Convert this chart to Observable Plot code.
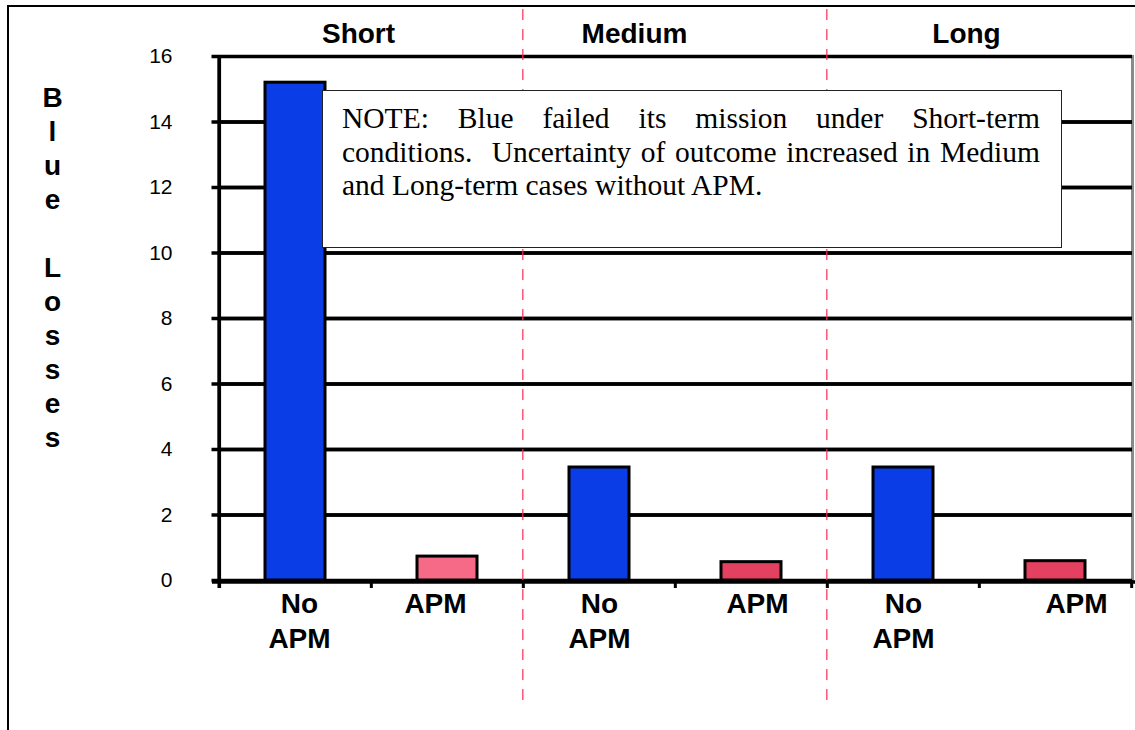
<!DOCTYPE html>
<html>
<head>
<meta charset="utf-8">
<script src="https://cdn.jsdelivr.net/npm/d3@7"></script>
<script src="https://cdn.jsdelivr.net/npm/@observablehq/plot@0.6"></script>
<style>
  html, body { margin: 0; padding: 0; background: #fff; overflow: hidden; }
  #wrap { position: relative; width: 1135px; height: 730px; overflow: hidden; }
  #outer { position: absolute; left: 6.5px; top: 5px; width: 1300px; height: 900px;
           border-top: 2.5px solid #000; border-left: 2.5px solid #000; box-sizing: border-box; }
  #chart { position: absolute; left: 0; top: 0; }
  #note { position: absolute; left: 322px; top: 90px; width: 740px; height: 158px;
          box-sizing: border-box; border: 1.5px solid #222; background: #fff;
          padding: 11px 21px 0 19px; font-family: "Liberation Serif", "Times New Roman", serif;
          font-size: 29.5px; line-height: 33.5px; color: #000; }
  #note .j { text-align: justify; text-align-last: justify; }
</style>
</head>
<body>
<div id="wrap">
  <div id="outer"></div>
  <div id="chart"></div>
  <div id="note">
    <div class="j">NOTE: Blue failed its mission under Short-term</div>
    <div class="j">conditions.&nbsp; Uncertainty of outcome increased in Medium</div>
    <div>and Long-term cases without APM.</div>
  </div>
</div>
<script>
// ---- data ----
const groups = ["Short", "Medium", "Long"];
const conditions = ["No APM", "APM"];
const conditionLabels = ["No\nAPM", "APM"];
const noApmLosses = [15.2, 3.45, 3.45];
const apmLosses = [0.73, 0.56, 0.59];
const noApmColor = "#0a3de6";
const apmColors = ["#f76a87", "#e4405f", "#e4405f"];
const yTicks = [0, 2, 4, 6, 8, 10, 12, 14, 16];
const yTitle = "B\nl\nu\ne\n\u00a0\nL\no\ns\ns\ne\ns";

// ---- layout ----
const W = 1135, H = 730;
const mL = 218, mR = 3, mT = 56, mB = 150;
const bw = (W - mL - mR) / (groups.length * conditions.length);
const groupLabelShift = [63, 35, 63];
const tickLabelShift = [4, -12, 0, 6, 0, 21];

const rows = [];
groups.forEach((g, i) => {
  rows.push({key: g + "|" + conditions[0], group: g, label: conditionLabels[0], value: noApmLosses[i], color: noApmColor});
  rows.push({key: g + "|" + conditions[1], group: g, label: conditionLabels[1], value: apmLosses[i], color: apmColors[i]});
});
const keys = rows.map(d => d.key);

const marks = [
  Plot.frame({stroke: "#8a8a8a", strokeWidth: 3}),
  Plot.gridY({ticks: yTicks.filter(t => t > 0 && t < 16), stroke: "#000", strokeOpacity: 1, strokeWidth: 3.5}),
  Plot.tickY(yTicks, {y: d => d, frameAnchor: "left", stroke: "#000", strokeWidth: 3.5}),
  Plot.ruleY(yTicks, {y: d => d, stroke: "#000", strokeWidth: 3.5, insetLeft: -6.5, insetRight: W - mL - mR}),
  Plot.text(yTicks, {y: d => d, text: d => String(d), frameAnchor: "left", dx: -46, textAnchor: "end",
                     fontSize: 21}),
  Plot.barY(rows, {x: "key", y: "value", fill: "color", stroke: "#000", strokeWidth: 3,
                   insetLeft: 46, insetRight: 46}),
  Plot.ruleY([0], {stroke: "#000", strokeWidth: 3.5, dy: 1.5, insetLeft: -6, insetRight: -4}),
  Plot.ruleX([keys[0]], {x: d => d, dx: -bw / 2, stroke: "#000", strokeWidth: 3.5, insetBottom: -8}),
  Plot.ruleX(keys, {x: d => d, dx: -bw / 2, stroke: "#000", strokeWidth: 3,
                    insetTop: H - mT - mB, insetBottom: -8}),
  Plot.ruleX([keys[keys.length - 1]], {x: d => d, dx: bw / 2, stroke: "#000", strokeWidth: 3,
                    insetTop: H - mT - mB, insetBottom: -8}),
  Plot.ruleX([keys[2], keys[4]], {x: d => d, dx: -bw / 2 - 0.5, stroke: "#ff2a55", strokeWidth: 1.2,
                    strokeDasharray: "11,9", insetTop: -(mT - 9), insetBottom: -(701 - (H - mB))}),
  Plot.text([yTitle], {text: d => d, frameAnchor: "top-left",
            lineAnchor: "top", textAnchor: "middle", dx: 52 - mL, dy: 26, lineHeight: 34 / 28,
            fontSize: 28, fontWeight: "bold"})
];
groups.forEach((g, i) => {
  marks.push(Plot.text([g + "|" + conditions[0]], {x: d => d, text: () => g, frameAnchor: "top",
    lineAnchor: "top", dy: -33, dx: groupLabelShift[i], fontSize: 28, fontWeight: "bold"}));
});
rows.forEach((r, i) => {
  marks.push(Plot.text([r], {x: "key", text: "label", frameAnchor: "bottom", lineAnchor: "top",
    dy: 8, dx: tickLabelShift[i], lineHeight: 1.25, fontSize: 28, fontWeight: "bold"}));
});

const chart = Plot.plot({
  width: W, height: H,
  marginLeft: mL, marginRight: mR, marginTop: mT, marginBottom: mB,
  style: {fontFamily: "'Liberation Sans', Arial, Helvetica, sans-serif", fontSize: "21px",
          color: "#000", background: "transparent", overflow: "visible"},
  x: {type: "band", domain: keys, padding: 0, axis: null},
  y: {domain: [0, 16], axis: null},
  color: {type: "identity"},
  marks
});
document.getElementById("chart").appendChild(chart);
</script>
</body>
</html>
